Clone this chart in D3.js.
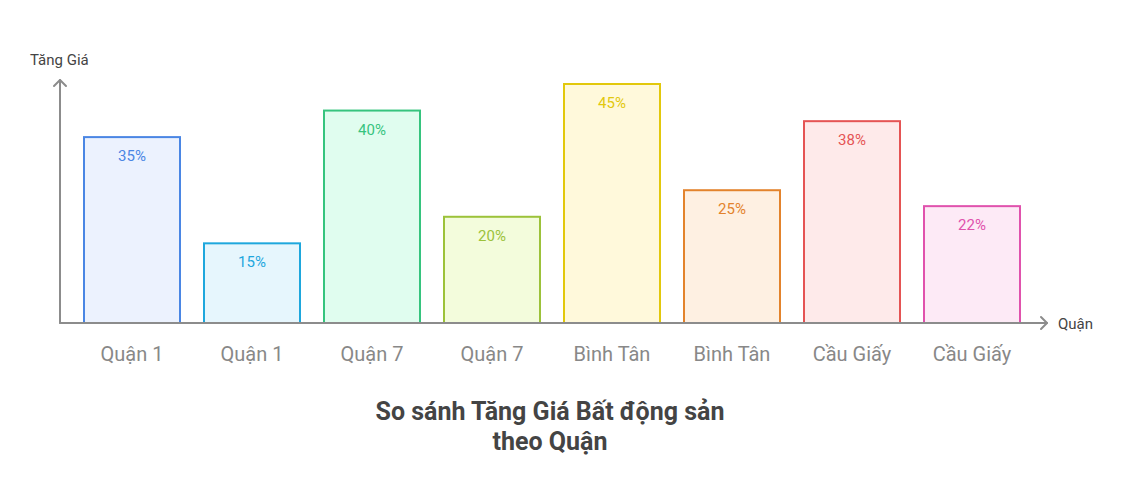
<!DOCTYPE html>
<html>
<head>
<meta charset="utf-8">
<script src="https://cdn.jsdelivr.net/npm/d3@7"></script>
<style>
  body { margin: 0; background: #fff; }
  svg { font-family: Roboto, "Noto Sans", sans-serif; }
</style>
</head>
<body>
<svg id="chart" width="1128" height="504"></svg>
<script>
// data
const districts = ["Quận 1", "Quận 1", "Quận 7", "Quận 7", "Bình Tân", "Bình Tân", "Cầu Giấy", "Cầu Giấy"];
const increases = [35, 15, 40, 20, 45, 25, 38, 22];
const strokeColors = ["#4a86e4", "#1ea7dd", "#36c47e", "#9cc23a", "#e2c80c", "#e3832c", "#e55454", "#e052ad"];
const fillColors = ["#ecf2fe", "#e6f6fd", "#e0fdef", "#f3fcdc", "#fff9db", "#fef0e2", "#feeaea", "#fdeaf6"];
const xLabel = "Quận";
const yLabel = "Tăng Giá";
const titleLines = ["So sánh Tăng Giá Bất động sản", "theo Quận"];

const svg = d3.select("#chart");
const axisColor = "#8c8c8c";

// scales
let x = d3.scaleBand()
  .domain(d3.range(districts.length))
  .range([72, 1032])
  .paddingInner(0.2)
  .paddingOuter(0.1);

let y = d3.scaleLinear()
  .domain([0, 45])
  .range([323, 84]);

// bars
let g = svg.append("g");
g.selectAll("rect")
  .data(increases)
  .enter().append("rect")
    .attr("x", (d, i) => x(i))
    .attr("y", d => y(d))
    .attr("width", x.bandwidth())
    .attr("height", d => y(0) - y(d))
    .attr("fill", (d, i) => fillColors[i])
    .attr("stroke", (d, i) => strokeColors[i])
    .attr("stroke-width", 2);

g.selectAll("text.val")
  .data(increases)
  .enter().append("text")
    .attr("class", "val")
    .attr("x", (d, i) => x(i) + x.bandwidth() / 2)
    .attr("y", d => y(d) + 24)
    .attr("text-anchor", "middle")
    .attr("font-size", 15)
    .attr("fill", (d, i) => strokeColors[i])
    .text(d => d + "%");

// category labels
g.selectAll("text.cat")
  .data(districts)
  .enter().append("text")
    .attr("class", "cat")
    .attr("x", (d, i) => x(i) + x.bandwidth() / 2)
    .attr("y", 361)
    .attr("text-anchor", "middle")
    .attr("font-size", 20)
    .attr("fill", "#888")
    .text(d => d);

// axes with arrows
let axes = svg.append("g")
  .attr("stroke", axisColor)
  .attr("stroke-width", 2)
  .attr("fill", "none")
  .attr("stroke-linecap", "round")
  .attr("stroke-linejoin", "round");

axes.append("path").attr("d", `M60,${y(0)}V${y(0) - 243}`);
axes.append("path").attr("d", `M54,${y(0) - 237}L60,${y(0) - 243}L66,${y(0) - 237}`);
axes.append("path").attr("d", `M60,${y(0)}H1047`);
axes.append("path").attr("d", `M1041,${y(0) - 6}L1047,${y(0)}L1041,${y(0) + 6}`);

svg.append("text")
  .attr("x", 1058)
  .attr("y", y(0) + 6)
  .attr("font-size", 15)
  .attr("fill", "#444")
  .text(xLabel);

svg.append("text")
  .attr("x", 30)
  .attr("y", 65)
  .attr("font-size", 15)
  .attr("fill", "#444")
  .text(yLabel);

// title
svg.append("text")
  .attr("text-anchor", "middle")
  .attr("font-size", 25)
  .attr("font-weight", "bold")
  .attr("fill", "#444")
  .selectAll("tspan")
  .data(titleLines)
  .enter().append("tspan")
    .attr("x", 550)
    .attr("y", (d, i) => 420 + i * 30)
    .text(d => d);
</script>
</body>
</html>
